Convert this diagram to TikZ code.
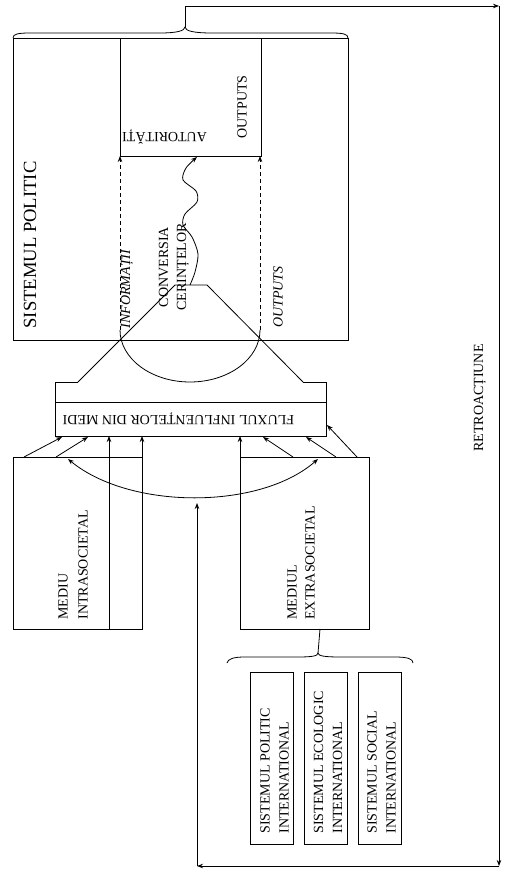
\documentclass[tikz,border=0pt]{standalone}
\usepackage{fontspec}
\setmainfont{Liberation Serif}
\usetikzlibrary{arrows.meta}
\begin{document}
\begin{tikzpicture}[x=1pt,y=-1pt, line width=0.8pt,
  >={Stealth[length=6pt,width=4.5pt]},
  lbl/.style={inner sep=0pt, font=\fontsize{14}{19}\selectfont},
  box/.style={draw, inner sep=0pt, outer sep=0pt},
  dsh/.style={dash pattern=on 4pt off 3pt}]
\useasboundingbox (0,0) rectangle (505,877);
% boxes
\node[box, minimum width=335pt, minimum height=302pt] (sp) at (180.5,189) {};
\node[box, minimum width=141pt, minimum height=118pt] (aut) at (190.5,97) {};
\node[inner sep=0pt, outer sep=0pt, minimum width=271pt, minimum height=54pt] (flux) at (190.5,409) {};
\node[box, minimum width=129pt, minimum height=172pt] (intra) at (77.5,543) {};
\node[box, minimum width=129pt, minimum height=172pt] (extra) at (304.5,543) {};
\node[box, minimum width=43pt, minimum height=172pt] (s1) at (271.5,758) {};
\node[box, minimum width=43pt, minimum height=172pt] (s2) at (325.5,758) {};
\node[box, minimum width=43pt, minimum height=172pt] (s3) at (379.5,758) {};
% flux box
\coordinate (tl) at (78,382);
\coordinate (tr) at (303,382);
\coordinate (tpl) at (175,285);
\coordinate (tpr) at (207,285);
\draw (tl) -- (flux.north west) -- (flux.south west) -- (flux.south east) -- (flux.north east) -- (tr);
\draw (55,402) -- (326,402);
\draw (tl) -- (tpl) -- (tpr) -- (tr);
% arc and dashed arrows
\coordinate (dl) at (120,330);
\coordinate (dr) at (260,330);
\draw (dl) arc[start angle=180, end angle=0, x radius=70, y radius=52];
\draw[dsh,->] (dl) -- (120,156);
\draw[dsh,->] (dr) -- (260,156);
% wave
\draw[->] plot[smooth] coordinates {(190,285) (195,272) (198,254) (192,237) (183,225) (185,214) (197,202) (196,191) (183,180) (186,168) (197,157)};
% top brace
\coordinate (tip) at (185,27);
\draw (13,38) .. controls (13,34) and (18,33) .. (30,33) -- (160,33)
      .. controls (176,33) and (185,31) .. (tip)
      .. controls (185,31) and (194,33) .. (212,33) -- (331,33)
      .. controls (343,33) and (348,34) .. (348,38);
% bottom brace
\coordinate (btip) at (318,653);
\draw (227,663) .. controls (228,659) and (233,657) .. (245,657) -- (298,657)
      .. controls (312,657) and (318,656) .. (btip)
      .. controls (318,656) and (325,657) .. (340,657) -- (395,657)
      .. controls (408,657) and (413,659) .. (413,663);
\draw (320,629) -- (btip);
% feedback loop
\coordinate (c1) at (185,6);
\coordinate (c2) at (499,6);
\coordinate (c3) at (499,866);
\coordinate (c4) at (197,866);
\coordinate (c5) at (197,503);
\draw[->] (tip) -- (c1) -- (c2);
\draw[->] (c2) -- (c3);
\draw[->] (c3) -- (c4);
\draw[->] (c4) -- (c5);
% arrows from environments
\draw[->] (24,457) -- (62,437);
\draw[->] (56,457) -- (88,437);
\draw[->] (109,629) -- (109,436);
\draw[->] (142,457) -- (142,436);
\draw[->] (240,457) -- (240,436);
\draw[->] (293,457) -- (263,437);
\draw[->] (336,457) -- (306,437);
\draw[->] (357,457) -- (327,425);
\draw[<->] (68,459) .. controls (130,510) and (260,510) .. (318,459);
% texts
\node[inner sep=0pt, rotate=90, font=\fontsize{18.6}{22}\selectfont] (tsp) at (30,245) {SISTEMUL POLITIC};
\node[lbl, rotate=180, anchor=center] (taut) at (164.5,137) {AUTORITĂȚI};
\node[lbl, rotate=90] (tout1) at (242,107) {OUTPUTS};
\node[lbl, rotate=90, font=\fontsize{14}{19}\selectfont\itshape] (tinf) at (127,289) {INFORMAȚII};
\node[lbl, rotate=90, align=center, font=\fontsize{14}{18}\selectfont] (tconv) at (174,267) {CONVERSIA\\CERINȚELOR};
\node[lbl, rotate=90, font=\fontsize{14}{19}\selectfont\itshape] (tout2) at (278,297) {OUTPUTS};
\node[lbl, rotate=180] (tflux) at (178.5,419) {FLUXUL INFLUENȚELOR DIN MEDI};
\node[lbl, rotate=90, align=left, anchor=west, font=\fontsize{14}{20}\selectfont] (tintra) at (73,620) {MEDIU\\INTRASOCIETAL};
\node[lbl, rotate=90, align=left, anchor=west, font=\fontsize{14}{18}\selectfont] (textra) at (301,620) {MEDIUL\\EXTRASOCIETAL};
\node[lbl, rotate=90, align=left, anchor=west] (ts1) at (274.5,834) {SISTEMUL POLITIC\\INTERNATIONAL};
\node[lbl, rotate=90, align=left, anchor=west] (ts2) at (328,834) {SISTEMUL ECOLOGIC\\INTERNATIONAL};
\node[lbl, rotate=90, align=left, anchor=west] (ts3) at (381.5,834) {SISTEMUL SOCIAL\\INTERNATIONAL};
\node[lbl, rotate=90] (tretro) at (480,398) {RETROACȚIUNE};
\end{tikzpicture}
\end{document}
